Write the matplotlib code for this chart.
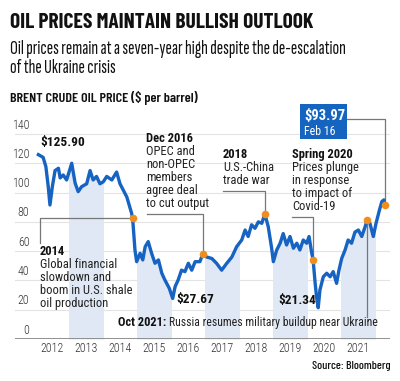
import matplotlib
matplotlib.use('Agg')
import matplotlib.pyplot as plt
from matplotlib.patches import Rectangle
from matplotlib import font_manager

# Brent crude, $ per barrel
dates = [2012.10, 2012.24, 2012.32, 2012.39, 2012.44, 2012.51, 2012.59, 2012.69, 2012.74,
         2012.83, 2012.93, 2013.08, 2013.18, 2013.27, 2013.37, 2013.52, 2013.62, 2013.71,
         2013.81, 2013.91, 2014.01, 2014.11, 2014.26, 2014.40, 2014.50, 2014.70, 2014.84,
         2014.87, 2014.89, 2014.94, 2014.99, 2015.09, 2015.17, 2015.24, 2015.33, 2015.43,
         2015.53, 2015.63, 2015.73, 2015.82, 2015.95, 2016.05, 2016.12, 2016.21, 2016.31,
         2016.41, 2016.51, 2016.61, 2016.71, 2016.85, 2016.93, 2017.05, 2017.20, 2017.34,
         2017.49, 2017.64, 2017.79, 2017.93, 2018.08, 2018.18, 2018.27, 2018.37, 2018.47,
         2018.57, 2018.67, 2018.76, 2018.86, 2018.96, 2019.01, 2019.11, 2019.21, 2019.30,
         2019.40, 2019.50, 2019.60, 2019.70, 2019.79, 2019.89, 2019.99, 2020.06, 2020.14,
         2020.18, 2020.24, 2020.28, 2020.33, 2020.38, 2020.48, 2020.58, 2020.68, 2020.77,
         2020.87, 2020.94, 2021.02, 2021.12, 2021.21, 2021.31, 2021.41, 2021.51, 2021.61,
         2021.71, 2021.77, 2021.85, 2021.95, 2022.03, 2022.13, 2022.20, 2022.26, 2022.29]
prices = [125.9, 124.0, 117.7, 104.0, 91.5, 104.0, 115.0, 116.6, 110.0,
          112.0, 108.6, 120.0, 106.5, 100.6, 104.0, 106.0, 115.0, 108.6,
          111.0, 106.0, 107.4, 111.0, 108.6, 114.0, 106.0, 97.0, 86.0,
          82.4, 76.7, 60.8, 52.8, 58.5, 54.0, 63.0, 66.5, 58.5,
          51.7, 54.0, 44.9, 40.3, 34.6, 27.67, 35.7, 40.3, 47.0,
          46.0, 51.7, 47.0, 52.8, 52.8, 57.8, 56.0, 55.0, 51.7,
          47.0, 51.7, 56.0, 63.0, 67.6, 74.4, 70.0, 78.0, 75.6,
          80.0, 79.0, 85.4, 76.7, 62.0, 52.8, 60.8, 65.4, 72.0,
          64.2, 70.0, 62.0, 65.4, 60.8, 67.6, 65.4, 70.0, 58.5,
          54.0, 38.0, 28.9, 21.34, 33.5, 42.5, 44.9, 42.5, 46.0,
          38.0, 47.0, 55.0, 60.8, 67.6, 65.4, 73.0, 74.4, 70.0,
          76.7, 81.3, 79.0, 70.0, 79.0, 88.0, 93.8, 95.0, 91.5]

years = [2012, 2013, 2014, 2015, 2016, 2017, 2018, 2019, 2020, 2021]
shaded_years = [2013, 2015, 2017, 2019, 2021]
yticks = [0, 20, 40, 60, 80, 100, 120, 140]

# marked events (date, price)
event_dates = [2014.87, 2016.93, 2018.76, 2020.18, 2021.77, 2022.29]
event_prices = [82.4, 57.8, 85.4, 54.0, 81.3, 91.5]

BLUE = '#1763c2'
BAND = '#dfe8f4'
ORANGE = '#f18d1d'
GREY = '#777777'
COND = 'Roboto Condensed'
HEAD = 'Barlow Condensed'
installed = {f.name for f in font_manager.fontManager.ttflist}
if 'Sofia Sans Extra Condensed' in installed:
    SUB, SUB_SIZE = 'Sofia Sans Extra Condensed', 14
else:
    SUB, SUB_SIZE = HEAD, 11.6

W, H = 400, 381
fig = plt.figure(figsize=(W / 100, H / 100), dpi=100)
fig.patch.set_facecolor('white')

# axes placed so that one year = 34 px, $140 = 205 px
ax = fig.add_axes([15 / W, (H - 339) / H, 375 / W, 239 / H])
ax.set_xlim(2011.412, 2022.441)
ax.set_ylim(0, 163.2)
ax.axis('off')


def tx(px):
    return 2012 + (px - 35) / 34


def ty(py):
    return (339 - py) / 1.4643


# grid + y labels
for v in yticks:
    ax.axhline(v, color='#888888' if v == 0 else '#e3e3e3',
               lw=1.3 if v == 0 else 0.8, zorder=0 if v else 3)
    ax.text(tx(29.5), v + 1.6, str(v), ha='right', va='bottom', fontsize=8.6,
            family=COND, weight='light', color='#333333')

for y in years:
    ax.text(y + 0.5, ty(348), str(y), ha='center', va='center', fontsize=8.6,
            family=COND, weight='light', color='#333333')

# shaded area under line for alternate years
for y in shaded_years:
    f = ax.fill_between(dates, 0, prices, color=BAND, lw=0, zorder=1)
    f.set_clip_path(Rectangle((y, 0), 1, 200, transform=ax.transData))

ax.plot(dates, prices, color=BLUE, lw=2.4, solid_joinstyle='round', zorder=4)

# connectors
cl = dict(color=GREY, lw=0.9, zorder=2, clip_on=False)
ax.plot([tx(40), tx(40), event_dates[0]], [ty(243), event_prices[0], event_prices[0]], **cl)
ax.plot([tx(147), event_dates[1], event_dates[1]], [ty(214), ty(214), event_prices[1]], **cl)
ax.plot([tx(223), event_dates[2], event_dates[2]], [ty(191), ty(191), event_prices[2]], **cl)
ax.plot([tx(292), event_dates[3], event_dates[3]], [ty(217), ty(217), event_prices[3]], **cl)
ax.plot([event_dates[4], event_dates[4]], [event_prices[4], ty(317)], **cl)
ax.plot([tx(347), event_dates[5], event_dates[5]], [ty(119), ty(119), event_prices[5]], **cl)

ax.scatter(event_dates, event_prices, s=30, color=ORANGE, zorder=6, clip_on=False, lw=0)

txt = dict(family=COND, fontsize=9, color='#222222', va='center', ha='left', clip_on=False)
bold = dict(txt, weight='bold', color='#111111')


def block(x, y, head, lines, step=12.8):
    ax.text(tx(x), ty(y), head, **bold)
    for i, s in enumerate(lines):
        ax.text(tx(x), ty(y + step * (i + 1)), s, **txt)


block(40, 252, '2014', ['Global financial', 'slowdown and', 'boom in U.S. shale', 'oil production'])
block(146, 139, 'Dec 2016', ['OPEC and', 'non-OPEC', 'members', 'agree deal', 'to cut output'], 13)
block(223, 155, '2018', ['U.S.-China', 'trade war'], 13)
block(292, 155, 'Spring 2020', ['Prices plunge', 'in response', 'to impact of', 'Covid-19'], 13)

ax.text(tx(40), ty(143), '$125.90', **dict(bold, fontsize=9.6))
ax.text(tx(176), ty(300), '$27.67', **dict(bold, fontsize=9.6))
ax.text(tx(278), ty(301), '$21.34', **dict(bold, fontsize=9.6))

t1 = ax.text(tx(118), ty(323), 'Oct 2021:', **dict(bold, fontsize=8.9))
fig.canvas.draw()
bb = t1.get_window_extent()
ax.text(tx(bb.x1 + 2.5), ty(323), 'Russia resumes military buildup near Ukraine',
        **dict(txt, fontsize=8.5))

# price box
box = Rectangle((tx(300), ty(139.5)), tx(347) - tx(300), ty(104) - ty(139.5),
                facecolor='#1565c0', edgecolor='none', zorder=7, clip_on=False)
ax.add_patch(box)
ax.text(tx(304), ty(116), '$93.97', **dict(bold, fontsize=10.5, color='white', zorder=8))
ax.text(tx(304), ty(132), 'Feb 16', **dict(txt, fontsize=8.6, color='white', zorder=8))

# headings
fig.text(10 / W, 1 - 22 / H, 'OIL PRICES MAINTAIN BULLISH OUTLOOK', family=HEAD, weight='bold',
         fontsize=15.4, va='center', color='#111111')
fig.text(10 / W, 1 - 49 / H, 'Oil prices remain at a seven-year high despite the de-escalation',
         family=SUB, fontsize=SUB_SIZE, va='center', color='#111111')
fig.text(10 / W, 1 - 68 / H, 'of the Ukraine crisis', family=SUB, fontsize=SUB_SIZE, va='center',
         color='#111111')
fig.text(10 / W, 1 - 98 / H, 'BRENT CRUDE OIL PRICE ($ per barrel)', family=HEAD, weight='semibold',
         fontsize=10.2, va='center', color='#111111')
fig.text(391 / W, 1 - 366 / H, 'Source: Bloomberg', family=HEAD, weight='medium', fontsize=8.6,
         ha='right', va='center', color='#111111')

fig.savefig('out.png', dpi=100)
plt.close()
